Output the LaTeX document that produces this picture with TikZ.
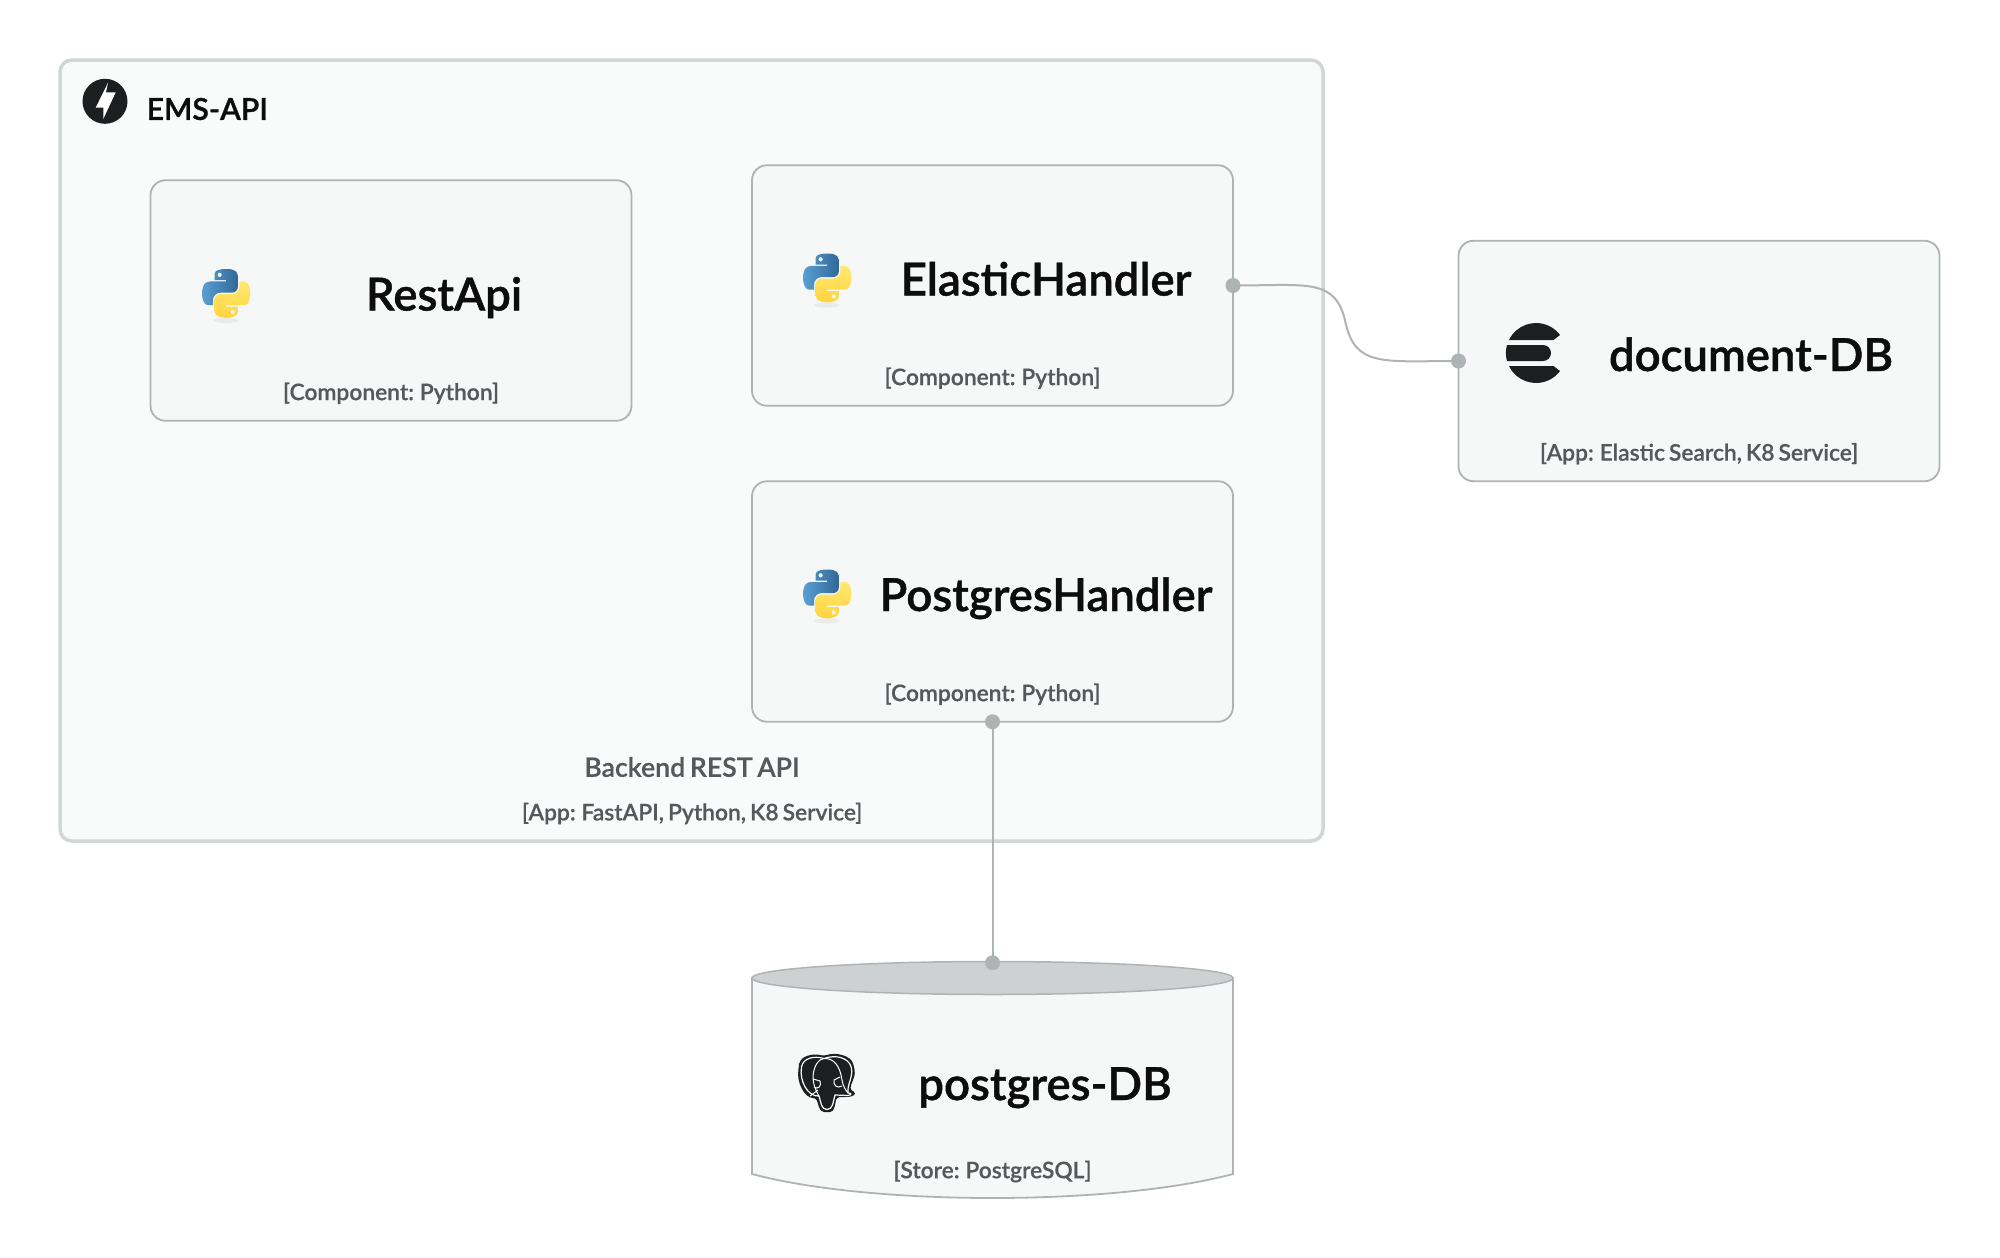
\documentclass[tikz,border=0pt]{standalone}
\usepackage{fontspec}
\setmainfont{Lato}[WordSpace=0.85]
\usepackage{xcolor}
\usepackage{tikz}
\usetikzlibrary{
  positioning,
  calc,
  svg.path
}
\definecolor{emsFrame}{HTML}{D2D6D6}
\definecolor{emsPale}{HTML}{F9FAFA}
\definecolor{emsCard}{HTML}{F6F8F8}
\definecolor{emsLine}{HTML}{AEB3B3}
\definecolor{emsLid}{HTML}{CDD1D2}
\definecolor{emsInk}{HTML}{1D1E20}
\definecolor{emsNote}{HTML}{55595C}
\definecolor{pyBlueA}{HTML}{5A9FD4}
\definecolor{pyBlueB}{HTML}{306998}
\definecolor{pyGoldA}{HTML}{FFE873}
\definecolor{pyGoldB}{HTML}{FFD43B}
\newfontfamily\titlefont{Lato Semibold}[FakeBold=1]
\newfontfamily\notefont{Lato Semibold}[FakeBold=0.5,WordSpace=0.7]
\tikzset{
  appbox/.style={
    draw=emsFrame, fill=emsPale, line width=3.5pt, rounded corners=12pt, outer sep=0pt,
    minimum width=1263pt, minimum height=781pt
  },
  card/.style={
    draw=emsLine, fill=emsCard, line width=1.8pt, rounded corners=15pt, outer sep=0pt,
    minimum width=481pt, minimum height=240.5pt
  },
  storebox/.style={outer sep=0pt, inner sep=0pt, minimum width=481pt, minimum height=236pt},
  cardtitle/.style={font=\titlefont\fontsize{45.5}{50}\selectfont, text=black!95, inner sep=0pt, anchor=base},
  apptitle/.style={font=\titlefont\fontsize{30.2}{36}\selectfont, text=black!95, inner sep=0pt},
  cardnote/.style={font=\notefont\fontsize{22.8}{28}\selectfont, text=emsNote, inner sep=0pt},
  appnote/.style={font=\notefont\fontsize{26.7}{32}\selectfont, text=emsNote, inner sep=0pt},
  link/.style={draw=emsLine, line width=2pt},
  linkdot/.style={circle, fill=emsLine, inner sep=0pt, minimum size=15pt},
  pylogo/.pic={
    \fill[black, opacity=.05] (0,27.5) ellipse [x radius=13, y radius=2.5];
    \shade[left color=pyBlueA, right color=pyBlueB, even odd rule, shift={(-24,-24)}, xscale=.436, yscale=-.436]
      svg {M 54.92 0 C 50.34 0.02 45.96 0.41 42.11 1.09 C 30.76 3.1 28.7 7.29 28.7 15.03 V 25.25 H 55.51 V 28.66 H 18.64 C 10.85 28.66 4.02 33.34 1.89 42.25 C -0.57 52.46 -0.68 58.84 1.89 69.5 C 3.79 77.44 8.35 83.1 16.14 83.1 H 25.36 V 70.85 C 25.36 62 33.01 54.19 42.11 54.19 H 68.89 C 76.34 54.19 82.29 48.05 82.29 40.56 V 15.03 C 82.29 7.77 76.16 2.31 68.89 1.09 C 64.28 0.33 59.5 -0.02 54.92 0 Z M 40.42 8.22 C 43.19 8.22 45.45 10.52 45.45 13.34 C 45.45 16.16 43.19 18.44 40.42 18.44 C 37.64 18.44 35.39 16.16 35.39 13.34 C 35.39 10.52 37.64 8.22 40.42 8.22 Z};
    \shade[top color=pyGoldA, bottom color=pyGoldB, even odd rule, shift={(-24,-24)}, xscale=.436, yscale=-.436]
      svg {M 85.64 28.66 V 40.56 C 85.64 49.79 77.81 57.56 68.89 57.56 H 42.11 C 34.77 57.56 28.7 63.84 28.7 71.19 V 96.72 C 28.7 103.98 35.02 108.26 42.11 110.34 C 50.59 112.84 58.73 113.29 68.89 110.34 C 75.64 108.39 82.29 104.46 82.29 96.72 V 86.5 H 55.51 V 83.09 H 95.7 C 103.49 83.09 106.39 77.66 109.1 69.5 C 111.9 61.1 111.84 53.03 109.1 42.25 C 107.17 34.5 103.5 28.66 95.7 28.66 Z M 70.57 93.31 C 73.35 93.31 75.6 95.59 75.6 98.41 C 75.6 101.23 73.35 103.53 70.57 103.53 C 67.8 103.53 65.54 101.23 65.54 98.41 C 65.54 95.59 67.8 93.31 70.57 93.31 Z};
  },
  boltlogo/.pic={
    \fill[emsInk] (0,0) circle (22.5);
    \fill[white] (3,-18.6) -- (-9.3,6.4) -- (-1.7,6.4) -- (-1.7,17.7) -- (10.7,-9) -- (1,-9) -- cycle;
  },
  elasticlogo/.pic={
    \foreach \s in {1,-1}{
      \fill[emsInk, yscale=\s] (-27,-13) arc [start angle=205.7, end angle=323.1, radius=30] -- (17.5,-13) -- cycle;
    }
    \fill[emsInk] (-29,-8) .. controls (-30.5,-3) and (-30.5,3) .. (-29,8) -- (7,8) arc [start angle=90, end angle=-90, radius=8] -- cycle;
  },
  pglogo/.pic={
    % outer body, then the pale outline, then the head over it
    \fill[emsInk, rounded corners=3pt] (-28,-17) .. controls (-26,-27) and (-14,-30) .. (-3,-27)
      .. controls (8,-31) and (24,-28) .. (27,-16) .. controls (29,-5) and (23,1) .. (24,8)
      .. controls (28,9) and (29,12) .. (22,14) -- (10,14) .. controls (8,20) and (8,29) .. (0,29)
      .. controls (-8,29) and (-9,20) .. (-11,15) .. controls (-22,15) and (-31,0) .. cycle;
    \draw[white, line width=1.2pt, line join=round] (-25.5,-16) .. controls (-24,-25) and (-13,-27.5) .. (-3,-24.5)
      .. controls (8,-28.5) and (22,-26) .. (24.5,-15) .. controls (26,-5) and (20,1) .. (21,10)
      .. controls (24,10) and (26,11.5) .. (21,12.5) -- (8,12)
      .. controls (6,19) and (6,26.5) .. (0,26.5) .. controls (-6,26.5) and (-6,19) .. (-8,13)
      .. controls (-19,14) and (-28,-2) .. cycle;
    \draw[white, line width=1pt, line join=round] (-14,-7) .. controls (-13,-18) and (-8,-24) .. (-3,-24.5)
      (-14,-7) .. controls (-14,1) and (-12,6) .. (-8,13)
      (-3,-24.5) .. controls (7,-25) and (13,-17) .. (15,-3) .. controls (16,3) and (19,8) .. (21,10)
      (-14,-4) -- (-7,-2) .. controls (-5,3) and (-9,7) .. (-13,4)
      (13,-6) -- (7,-3) .. controls (6,2) and (10,6) .. (15,3)
      (-17,13) -- (-9,7);
  }
}
\begin{document}
\begin{tikzpicture}[x=1pt, y=-1pt]
  \useasboundingbox (0,0) rectangle (2000,1258);
  \node[appbox] (ems) at (691.5,450.5) {};
  \node[card] (rest) at (391,300.5) {};
  \node[card] (elastic) at (992.5,285.5) {};
  \node[card, below=75.5pt of elastic] (postgres) {};
  \node[card, right=225.5pt of elastic, yshift=-75.5pt] (document) {};
  \node[storebox, below=241pt of postgres] (pgdb) {};

  \draw[draw=emsLine, line width=1.8pt, fill=emsCard] (752,978) -- (752,1174)
    .. controls (872,1206) and (1113,1206) .. (1233,1174) -- (1233,978) -- cycle;
  \draw[draw=emsLine, line width=1.5pt, fill=emsLid] (992.5,978) ellipse [x radius=240.5, y radius=16.5];

  \pic at (105,101.3) {boltlogo};
  \node[apptitle, anchor=west] (emstitle) at (146.5,109) {EMS-API};
  \node[appnote] (emsname) at (692,767) {Backend REST API};
  \node[cardnote] (emsnote) at (692,813.5) {[App: FastAPI, Python, K8 Service]};

  \pic at (226,293) {pylogo};
  \node[cardtitle] (resttitle) at (444,310.5) {RestApi};
  \node[cardnote] (restnote) at ([yshift=27.5pt]rest.south) {[Component: Python]};

  \pic at (827,277.5) {pylogo};
  \node[cardtitle] (elastictitle) at (1046,295.5) {ElasticHandler};
  \node[cardnote] (elasticnote) at ([yshift=27.5pt]elastic.south) {[Component: Python]};

  \pic at (827,593.5) {pylogo};
  \node[cardtitle] (postgrestitle) at (1046,611) {PostgresHandler};
  \node[cardnote] (postgresnote) at ([yshift=27.5pt]postgres.south) {[Component: Python]};

  \pic at (1536,353) {elasticlogo};
  \node[cardtitle] (documenttitle) at (1751,371) {document-DB};
  \node[cardnote] (documentnote) at ([yshift=27.5pt]document.south) {[App: Elastic Search, K8 Service]};

  \pic at (827,1083) {pglogo};
  \node[cardtitle] (pgdbtitle) at (1045,1100) {postgres-DB};
  \node[cardnote] (pgdbnote) at (992.5,1171.5) {[Store: PostgreSQL]};

  \coordinate (bend) at (1345.5,322.5);
  \draw[link] (elastic.east) .. controls +(75,0) and +(-10,-45) .. (bend)
    .. controls +(10,45) and +(-75,0) .. (document.west);
  \draw[link] (postgres.south) -- (pgdb.north);
  \foreach \a/\n in {elastic.east/a, document.west/b, postgres.south/c, pgdb.north/d}{
    \node[linkdot] (dot\n) at (\a) {};
  }
\end{tikzpicture}
\end{document}
